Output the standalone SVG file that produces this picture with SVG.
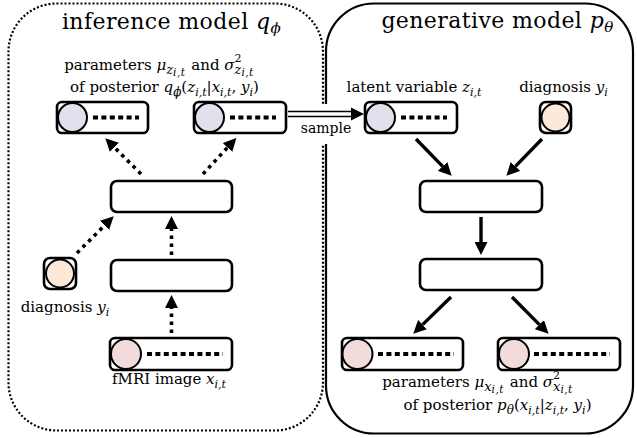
<svg xmlns="http://www.w3.org/2000/svg" width="637" height="438" viewBox="0 0 637 438">
<style>
text{font-family:'DejaVu Serif','Liberation Serif',serif;fill:#000}
.lbl{font-size:15px}
.ttl{font-size:22px;letter-spacing:0.4px}
.i{font-style:italic}
.box{fill:#fff;stroke:#000;stroke-width:2.6}
.c{stroke:#000;stroke-width:2}
.lav{fill:#e4dfec}
.pea{fill:#fde9d9}
.pnk{fill:#f2dcdb}
.dots{stroke:#000;stroke-width:4;stroke-dasharray:5 3.4;fill:none}
.da{stroke:#000;stroke-width:3.6;stroke-dasharray:3.6 4.4;fill:none}
.sa{stroke:#000;stroke-width:3.4;fill:none}
</style>
<defs>
<marker id="ah" viewBox="0 0 10 10" refX="0" refY="5" markerWidth="13" markerHeight="13" orient="auto" markerUnits="userSpaceOnUse">
<path d="M0,0 L10,5 L0,10 z" fill="#000"/>
</marker>
</defs>
<rect width="637" height="438" fill="#fff"/>
<g id="inference-model">
<rect x="8.5" y="3.5" width="314.5" height="427" rx="48" fill="none" stroke="#000" stroke-width="2.2" stroke-dasharray="2 2"/>
<text class="ttl" x="171.5" y="29" text-anchor="middle">inference model <tspan class="i">q</tspan><tspan class="i" font-size="15" dy="4">ϕ</tspan></text>
</g>
<g id="generative-model">
<rect x="326" y="3.5" width="307" height="430" rx="48" fill="none" stroke="#000" stroke-width="2.2"/>
<text class="ttl" x="497.5" y="28" text-anchor="middle">generative model <tspan class="i">p</tspan><tspan class="i" font-size="15" dy="4">θ</tspan></text>
</g>
<g id="sample-label">
<rect x="288" y="104" width="72" height="40" fill="#fff"/>
<text x="326" y="133" font-size="14" text-anchor="middle">sample</text>
</g>
<g id="q-labels">
<text class="lbl" x="159" y="70" text-anchor="middle">parameters <tspan class="i">μ</tspan><tspan class="i" font-size="13" dy="3.5">z</tspan><tspan class="i" font-size="10.5" dy="2.5" letter-spacing="0.5">i,t</tspan><tspan dy="-6" dx="1"> and </tspan><tspan class="i">σ</tspan><tspan font-size="11" dy="-8">2</tspan><tspan class="i" font-size="13" dx="-7" dy="11.5">z</tspan><tspan class="i" font-size="10.5" dy="2.5" letter-spacing="0.5">i,t</tspan></text>
<text class="lbl" x="164.5" y="92" text-anchor="middle">of posterior <tspan class="i">q</tspan><tspan class="i" font-size="12" dy="4">ϕ</tspan><tspan dy="-4">(</tspan><tspan class="i">z</tspan><tspan class="i" font-size="11" dy="4">i,t</tspan><tspan dy="-4">|</tspan><tspan class="i">x</tspan><tspan class="i" font-size="11" dy="4">i,t</tspan><tspan dy="-4">, </tspan><tspan class="i">y</tspan><tspan class="i" font-size="11" dy="4">i</tspan><tspan dy="-4">)</tspan></text>
</g>
<g id="q-mu">
<rect class="box" x="57" y="102" width="91" height="31" rx="5"/>
<circle class="c lav" cx="72.5" cy="117.5" r="14.5"/>
<line class="dots" x1="93" y1="117.5" x2="139" y2="117.5"/>
</g>
<g id="q-sigma">
<rect class="box" x="194" y="102" width="92" height="31" rx="5"/>
<circle class="c lav" cx="209.5" cy="117.5" r="14.5"/>
<line class="dots" x1="230" y1="117.5" x2="276" y2="117.5"/>
</g>
<g id="q-hidden2">
<rect class="box" x="111" y="181" width="121" height="31" rx="6"/>
</g>
<g id="q-hidden1">
<rect class="box" x="111" y="260" width="121" height="31" rx="6"/>
</g>
<g id="q-diagnosis">
<rect class="box" x="44" y="258" width="32" height="31" rx="6"/>
<circle class="c pea" cx="60" cy="273.5" r="14"/>
<text class="lbl" x="65" y="312" text-anchor="middle">diagnosis <tspan class="i">y</tspan><tspan class="i" font-size="11" dy="4">i</tspan></text>
</g>
<g id="q-fmri">
<rect class="box" x="110" y="338" width="122" height="32" rx="5"/>
<circle class="c pnk" cx="126" cy="354" r="15"/>
<line class="dots" x1="147" y1="354" x2="223" y2="354"/>
<text class="lbl" x="169" y="384" text-anchor="middle">fMRI image <tspan class="i">x</tspan><tspan class="i" font-size="11" dy="4">i,t</tspan></text>
</g>
<g id="p-latent">
<text class="lbl" x="414" y="92" text-anchor="middle">latent variable <tspan class="i">z</tspan><tspan class="i" font-size="11" dy="4">i,t</tspan></text>
<rect class="box" x="365" y="102" width="92" height="31" rx="5"/>
<circle class="c lav" cx="380.5" cy="117.5" r="14.5"/>
<line class="dots" x1="401" y1="117.5" x2="447" y2="117.5"/>
</g>
<g id="p-diagnosis">
<text class="lbl" x="563.5" y="92" text-anchor="middle">diagnosis <tspan class="i">y</tspan><tspan class="i" font-size="11" dy="4">i</tspan></text>
<rect class="box" x="540" y="102" width="31" height="31" rx="6"/>
<circle class="c pea" cx="555.5" cy="117.5" r="14"/>
</g>
<g id="p-hidden1">
<rect class="box" x="420" y="181" width="122" height="31" rx="6"/>
</g>
<g id="p-hidden2">
<rect class="box" x="420" y="259" width="122" height="31" rx="6"/>
</g>
<g id="p-mu">
<rect class="box" x="342" y="338" width="121" height="32" rx="5"/>
<circle class="c pnk" cx="357.5" cy="354" r="15"/>
<line class="dots" x1="378" y1="354" x2="454" y2="354"/>
</g>
<g id="p-sigma">
<rect class="box" x="498" y="338" width="122" height="32" rx="5"/>
<circle class="c pnk" cx="514" cy="354" r="15"/>
<line class="dots" x1="534" y1="354" x2="610" y2="354"/>
</g>
<g id="p-labels">
<text class="lbl" x="477.5" y="387" text-anchor="middle">parameters <tspan class="i">μ</tspan><tspan class="i" font-size="13" dy="3.5">x</tspan><tspan class="i" font-size="10.5" dy="2.5" letter-spacing="0.5">i,t</tspan><tspan dy="-6" dx="1"> and </tspan><tspan class="i">σ</tspan><tspan font-size="11" dy="-8">2</tspan><tspan class="i" font-size="13" dx="-7" dy="11.5">x</tspan><tspan class="i" font-size="10.5" dy="2.5" letter-spacing="0.5">i,t</tspan></text>
<text class="lbl" x="497.5" y="410" text-anchor="middle">of posterior <tspan class="i">p</tspan><tspan class="i" font-size="12" dy="4">θ</tspan><tspan dy="-4">(</tspan><tspan class="i">x</tspan><tspan class="i" font-size="11" dy="4">i,t</tspan><tspan dy="-4">|</tspan><tspan class="i">z</tspan><tspan class="i" font-size="11" dy="4">i,t</tspan><tspan dy="-4">, </tspan><tspan class="i">y</tspan><tspan class="i" font-size="11" dy="4">i</tspan><tspan dy="-4">)</tspan></text>
</g>
<g id="connectors">
<line class="da" x1="141" y1="174" x2="114.5" y2="147.5" marker-end="url(#ah)"/>
<line class="da" x1="203" y1="174" x2="227.5" y2="147.5" marker-end="url(#ah)"/>
<line class="da" x1="77" y1="253" x2="104.5" y2="225.5" marker-end="url(#ah)"/>
<line class="da" x1="171.5" y1="255" x2="171.5" y2="229" marker-end="url(#ah)"/>
<line class="da" x1="171.5" y1="333" x2="171.5" y2="308" marker-end="url(#ah)"/>
<line class="sa" x1="416" y1="139" x2="442.6" y2="166.4" marker-end="url(#ah)"/>
<line class="sa" x1="542" y1="139" x2="515.4" y2="166.4" marker-end="url(#ah)"/>
<line class="sa" x1="481" y1="217" x2="481" y2="242" marker-end="url(#ah)"/>
<line class="sa" x1="451" y1="297" x2="422.6" y2="324.6" marker-end="url(#ah)"/>
<line class="sa" x1="512" y1="297" x2="539.4" y2="324.6" marker-end="url(#ah)"/>
<line x1="288" y1="111.5" x2="353" y2="111.5" stroke="#000" stroke-width="1.6"/>
<line x1="288" y1="116.5" x2="353" y2="116.5" stroke="#000" stroke-width="1.6"/>
<path d="M351,107.5 L364,114 L351,120.5 z" fill="#000"/>
</g>
</svg>
